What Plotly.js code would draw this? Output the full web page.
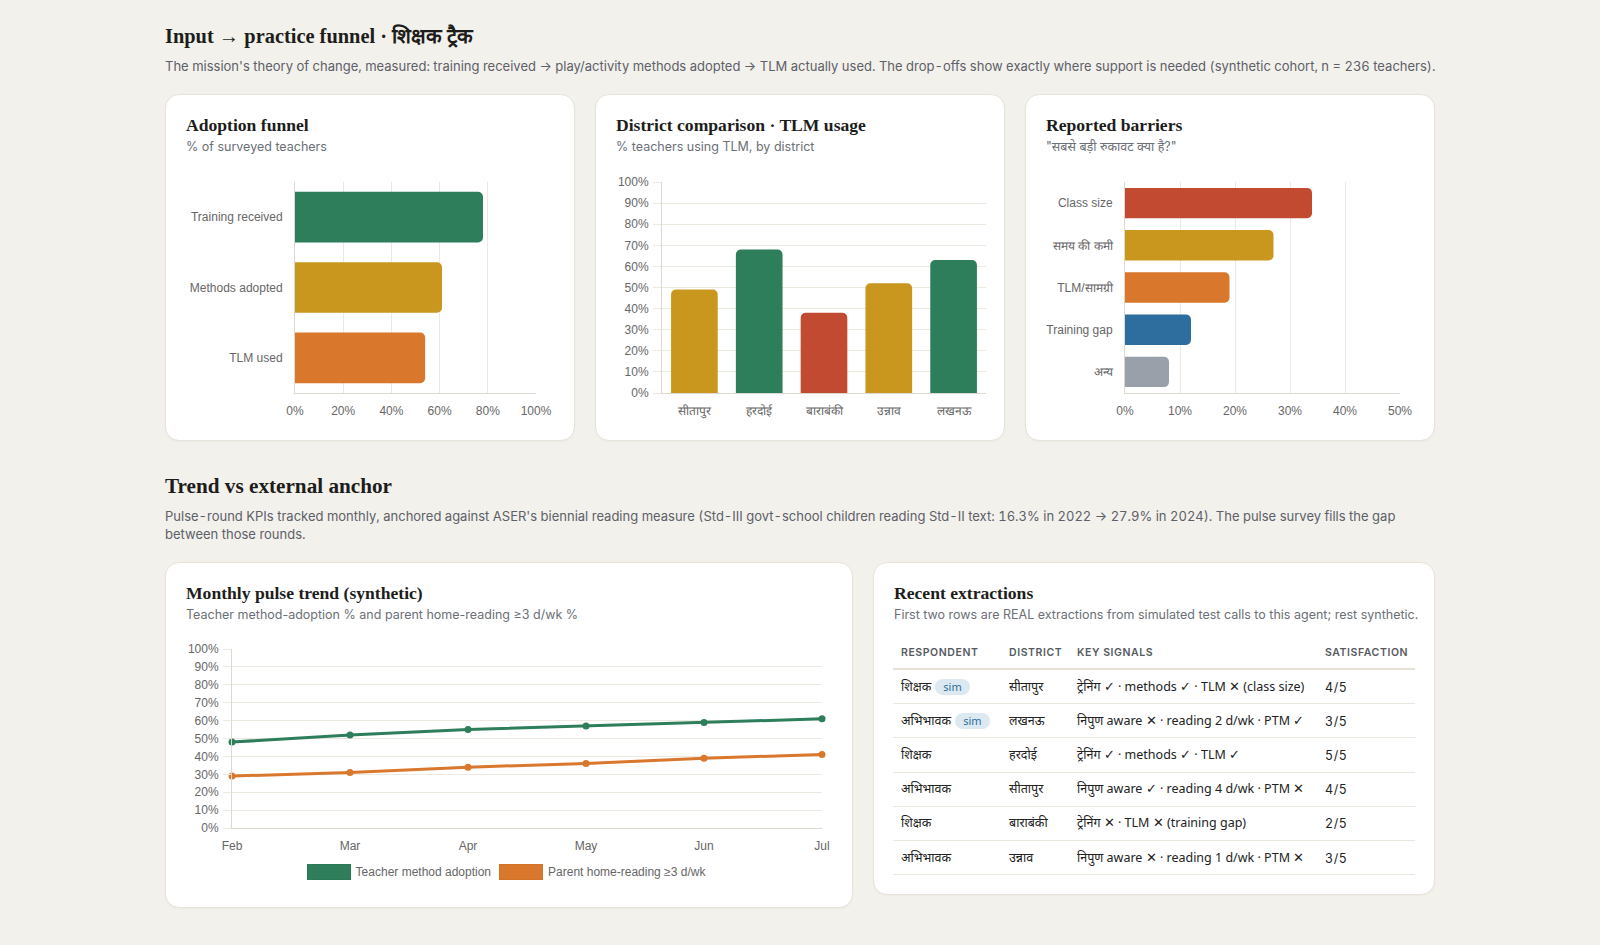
<!DOCTYPE html>
<html>
<head>
<meta charset="utf-8">
<script src="https://cdn.plot.ly/plotly-3.0.1.min.js"></script>
<style>
  html,body{margin:0;padding:0;}
  body{width:1600px;height:945px;background:#f3f1ec;position:relative;overflow:hidden;font-family:Inter,"Noto Sans",sans-serif;}
  .abs{position:absolute;}
  .h1{font-family:"Liberation Serif",serif;font-weight:700;font-size:21px;color:#1d1d1b;white-space:nowrap;line-height:24px;}
  .sub{font-size:13px;color:#5c6068;line-height:18.3px;font-variant-numeric:tabular-nums;}
  .card{position:absolute;background:#fff;border:1px solid #e7e3d9;border-radius:14px;box-sizing:border-box;box-shadow:0 1px 2px rgba(0,0,0,0.03);}
  .ct{position:absolute;left:20px;font-family:"Liberation Serif",serif;font-weight:700;font-size:17.6px;color:#1d1d1b;white-space:nowrap;line-height:22px;}
  .cs{position:absolute;left:20px;font-size:12.5px;color:#6b6f76;white-space:nowrap;line-height:18px;}
  .plot{position:absolute;}
  .legend{position:absolute;display:flex;justify-content:center;align-items:center;font-family:"Liberation Sans",Arial,sans-serif;font-size:12px;color:#666;}
  .legend .box{display:inline-block;width:42px;height:14px;margin-right:5px;border:1px solid rgba(0,0,0,0.04);}
  .legend .item{display:flex;align-items:center;margin:0 4px;}
  table{position:absolute;border-collapse:collapse;table-layout:fixed;}
  th{font-family:Inter,sans-serif;font-size:10.5px;letter-spacing:0.055em;font-weight:600;color:#555a60;text-align:left;padding:0 8px;height:31px;line-height:14px;border-bottom:2px solid #e6e1d4;text-transform:uppercase;white-space:nowrap;}
  td{font-family:"Noto Sans",sans-serif;font-size:12.5px;color:#222;padding:0 8px;border-bottom:1px solid #ebe7dd;white-space:nowrap;}
  td .cell{height:33.2px;display:flex;align-items:center;line-height:16px;overflow:visible;}
  td.sat{font-family:Inter,sans-serif;font-variant-numeric:tabular-nums;font-size:12.5px;letter-spacing:0.6px;}
  td.sat .cell{padding-top:2px;box-sizing:border-box;}
  .sim{display:inline-block;background:#dde9f1;color:#2e6e9e;font-size:11px;line-height:16px;padding:0 8px;border-radius:9px;margin-left:4px;font-family:"Noto Sans",sans-serif;}
</style>
</head>
<body>
<script>
// ---------- data ----------
const funnelStages = ['Training received', 'Methods adopted', 'TLM used'];
const funnelValues = [78, 61, 54];

const districts = ['सीतापुर', 'हरदोई', 'बाराबंकी', 'उन्नाव', 'लखनऊ'];
const districtTlm = [49, 68, 38, 52, 63];

const barrierLabels = ['Class size', 'समय की कमी', 'TLM/सामग्री', 'Training gap', 'अन्य'];
const barrierValues = [34, 27, 19, 12, 8];

const months = ['Feb', 'Mar', 'Apr', 'May', 'Jun', 'Jul'];
const teacherAdoption = [48, 52, 55, 57, 59, 61];
const parentReading = [29, 31, 34, 36, 39, 41];

const tableHeaders = ['Respondent', 'District', 'Key signals', 'Satisfaction'];
const respondents = ['शिक्षक', 'अभिभावक', 'शिक्षक', 'अभिभावक', 'शिक्षक', 'अभिभावक'];
const simFlags = [true, true, false, false, false, false];
const rowDistricts = ['सीतापुर', 'लखनऊ', 'हरदोई', 'सीतापुर', 'बाराबंकी', 'उन्नाव'];
const keySignals = [
  'ट्रेनिंग ✓ · methods ✓ · TLM ✕ (class size)',
  'निपुण aware ✕ · reading 2 d/wk · PTM ✓',
  'ट्रेनिंग ✓ · methods ✓ · TLM ✓',
  'निपुण aware ✓ · reading 4 d/wk · PTM ✕',
  'ट्रेनिंग ✕ · TLM ✕ (training gap)',
  'निपुण aware ✕ · reading 1 d/wk · PTM ✕'
];
const satisfaction = ['4/5', '3/5', '5/5', '4/5', '2/5', '3/5'];

// ---------- styles ----------
const C = {green:'#2e7d5b', yellow:'#c9971e', orange:'#d9782d', red:'#c24a30', blue:'#2e6e9e', gray:'#9aa0aa'};
const funnelColors = [C.green, C.yellow, C.orange];
const barrierColors = [C.red, C.yellow, C.orange, C.blue, C.gray];
const districtColor = v => v >= 60 ? C.green : (v >= 45 ? C.yellow : C.red);
const GRID = '#ece9e1', AXIS = '#dcd9d1';
const tickFont = {family:'"Liberation Sans", Arial, sans-serif', size:12, color:'#666'};
</script>

<div class="abs h1" style="left:165px;top:24px;font-size:20.4px;">Input → practice funnel · शिक्षक ट्रैक</div>
<div class="abs sub" style="left:165px;top:57px;white-space:nowrap;">The mission's theory of change, measured: training received → play/activity methods adopted → TLM actually used. The drop-offs show exactly where support is needed (synthetic cohort, n = 236 teachers).</div>

<div class="card" style="left:165px;top:94px;width:410px;height:347px;">
  <div class="ct" style="top:19px;">Adoption funnel</div>
  <div class="cs" style="top:43px;">% of surveyed teachers</div>
  <div id="funnel" class="plot" style="left:10px;top:70px;width:390px;height:266px;"></div>
</div>
<div class="card" style="left:595px;top:94px;width:410px;height:347px;">
  <div class="ct" style="top:19px;">District comparison · TLM usage</div>
  <div class="cs" style="top:43px;">% teachers using TLM, by district</div>
  <div id="district" class="plot" style="left:10px;top:70px;width:390px;height:266px;"></div>
</div>
<div class="card" style="left:1025px;top:94px;width:410px;height:347px;">
  <div class="ct" style="top:19px;">Reported barriers</div>
  <div class="cs" style="top:43px;">"सबसे बड़ी रुकावट क्या है?"</div>
  <div id="barriers" class="plot" style="left:10px;top:70px;width:390px;height:266px;"></div>
</div>

<div class="abs h1" style="left:165px;top:474px;font-size:21.2px;">Trend vs external anchor</div>
<div class="abs sub" style="left:165px;top:507px;width:1270px;">Pulse-round KPIs tracked monthly, anchored against ASER's biennial reading measure (Std-III govt-school children reading Std-II text: 16.3% in 2022 → 27.9% in 2024). The pulse survey fills the gap between those rounds.</div>

<div class="card" style="left:165px;top:562px;width:688px;height:346px;">
  <div class="ct" style="top:19px;">Monthly pulse trend (synthetic)</div>
  <div class="cs" style="top:43px;">Teacher method-adoption % and parent home-reading ≥3 d/wk %</div>
  <div id="trend" class="plot" style="left:10px;top:68px;width:668px;height:230px;"></div>
  <div id="trendLegend" class="legend" style="left:-4px;top:300px;width:688px;height:18px;"></div>
</div>

<div class="card" style="left:873px;top:562px;width:562px;height:333px;">
  <div class="ct" style="top:19px;">Recent extractions</div>
  <div class="cs" style="top:43px;">First two rows are REAL extractions from simulated test calls to this agent; rest synthetic.</div>
  <table id="tbl" style="left:19px;top:74px;width:522px;">
    <colgroup><col style="width:108px"><col style="width:68px"><col style="width:248px"><col style="width:98px"></colgroup>
    <thead><tr id="thead"></tr></thead>
    <tbody id="tbody"></tbody>
  </table>
</div>

<script>
const cfg = {displayModeBar:false, staticPlot:true};
const baseLayout = (m) => ({
  margin:m, paper_bgcolor:'rgba(0,0,0,0)', plot_bgcolor:'rgba(0,0,0,0)',
  showlegend:false, font:tickFont, bargap:0.28
});

// Funnel
Plotly.newPlot('funnel', [{
  type:'bar', orientation:'h', x:funnelValues, y:funnelStages,
  marker:{color:funnelColors, cornerradius:5}, hoverinfo:'none'
}], Object.assign(baseLayout({l:119, r:30, t:17, b:38}), {
  xaxis:{range:[0,100], dtick:20, ticksuffix:'%', showgrid:true, gridcolor:GRID, zeroline:false,
         showline:true, linecolor:AXIS, ticks:'', tickfont:tickFont, ticklabelstandoff:7, fixedrange:true},
  yaxis:{type:'category', range:[2.5,-0.5], showgrid:false, zeroline:false, showline:true, linecolor:AXIS,
         ticks:'', tickfont:tickFont, ticklabelstandoff:9, fixedrange:true}
}), cfg);

// District
Plotly.newPlot('district', [{
  type:'bar', x:districts, y:districtTlm,
  marker:{color:districtTlm.map(districtColor), cornerradius:5}, hoverinfo:'none'
}], Object.assign(baseLayout({l:56, r:10, t:17, b:38}), {
  xaxis:{type:'category', range:[-0.5,4.5], showgrid:false, zeroline:false, showline:true, linecolor:AXIS,
         ticks:'', tickfont:tickFont, ticklabelstandoff:7, fixedrange:true},
  yaxis:{range:[0,100], dtick:10, ticksuffix:'%', showgrid:true, gridcolor:GRID, zeroline:false,
         showline:true, linecolor:AXIS, ticks:'outside', ticklen:8, tickcolor:GRID, tickfont:tickFont,
         ticklabelstandoff:2, fixedrange:true}
}), cfg);

// Barriers
Plotly.newPlot('barriers', [{
  type:'bar', orientation:'h', x:barrierValues, y:barrierLabels,
  marker:{color:barrierColors, cornerradius:5}, hoverinfo:'none'
}], Object.assign(baseLayout({l:89.3, r:25.7, t:17, b:38}), {
  xaxis:{range:[0,50], dtick:10, ticksuffix:'%', showgrid:true, gridcolor:GRID, zeroline:false,
         showline:true, linecolor:AXIS, ticks:'', tickfont:tickFont, ticklabelstandoff:7, fixedrange:true},
  yaxis:{type:'category', range:[4.5,-0.5], showgrid:false, zeroline:false, showline:true, linecolor:AXIS,
         ticks:'', tickfont:tickFont, ticklabelstandoff:9, fixedrange:true}
}), cfg);

// Trend
const seriesNames = ['Teacher method adoption', 'Parent home-reading ≥3 d/wk'];
const seriesData = [teacherAdoption, parentReading];
const seriesColors = [C.green, C.orange];
Plotly.newPlot('trend', seriesData.map((d, i) => ({
  type:'scatter', mode:'lines+markers', x:months, y:d, name:seriesNames[i],
  line:{color:seriesColors[i], width:3}, marker:{color:seriesColors[i], size:7},
  cliponaxis:false, hoverinfo:'none'
})), Object.assign(baseLayout({l:55.5, r:22.3, t:18.3, b:33}), {
  xaxis:{type:'category', range:[0,5], showgrid:false, zeroline:false, showline:true, linecolor:AXIS,
         ticks:'', tickfont:tickFont, ticklabelstandoff:7, fixedrange:true},
  yaxis:{range:[0,100], dtick:10, ticksuffix:'%', showgrid:true, gridcolor:GRID, zeroline:false,
         showline:true, linecolor:AXIS, ticks:'outside', ticklen:8, tickcolor:GRID, tickfont:tickFont,
         ticklabelstandoff:2, fixedrange:true}
}), cfg);

const lg = document.getElementById('trendLegend');
seriesNames.forEach((n, i) => {
  const it = document.createElement('span'); it.className = 'item';
  const b = document.createElement('span'); b.className = 'box'; b.style.background = seriesColors[i];
  it.appendChild(b); it.appendChild(document.createTextNode(n)); lg.appendChild(it);
});

// Table
const thr = document.getElementById('thead');
tableHeaders.forEach(h => { const th = document.createElement('th'); th.textContent = h; thr.appendChild(th); });
const tb = document.getElementById('tbody');
const mkCell = (cls) => { const td = document.createElement('td'); if (cls) td.className = cls; const d = document.createElement('div'); d.className = 'cell'; td.appendChild(d); return [td, d]; };
respondents.forEach((r, i) => {
  const tr = document.createElement('tr');
  const [td1, c1] = mkCell(); c1.appendChild(document.createTextNode(r));
  if (simFlags[i]) { const s = document.createElement('span'); s.className = 'sim'; s.textContent = 'sim'; c1.appendChild(s); }
  const [td2, c2] = mkCell(); c2.textContent = rowDistricts[i];
  const [td3, c3] = mkCell(); c3.textContent = keySignals[i];
  const [td4, c4] = mkCell('sat'); c4.textContent = satisfaction[i];
  [td1, td2, td3, td4].forEach(t => tr.appendChild(t));
  tb.appendChild(tr);
});
</script>
</body>
</html>
